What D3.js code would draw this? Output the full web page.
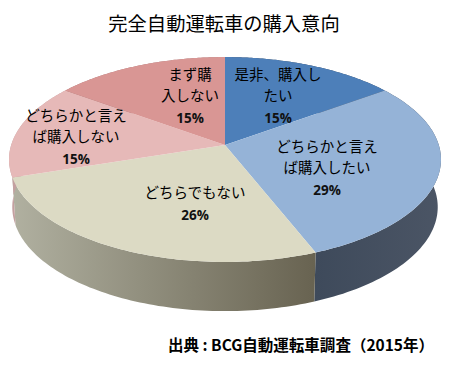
<!DOCTYPE html>
<html><head><meta charset="utf-8">
<script src="https://cdn.jsdelivr.net/npm/d3@7/dist/d3.min.js"></script>
<style>html,body{margin:0;padding:0;background:#fff}svg{display:block}</style>
</head><body><svg id="c" width="450" height="368"></svg>
<script>
const titleText = "完全自動運転車の購入意向";
const sourceText = "出典 : BCG自動運転車調査（2015年）";
const categories = ["是非、購入したい","どちらかと言えば購入したい","どちらでもない","どちらかと言えば購入しない","まず購入しない"];
const labelLines = [["是非、購入し","たい"],["どちらかと言え","ば購入したい"],["どちらでもない"],["どちらかと言え","ば購入しない"],["まず購","入しない"]];
const values = [15,29,26,15,15];
const topColors = ["#4d7fb9","#95b3d7","#dcdac4","#e6b9b8","#d99694"];
const sideLeft  = ["#3a4a60","#3e4a5b","#b1b1a1","#c4a0a0","#a87878"];
const sideRight = ["#3a4a60","#4b5565","#686351","#c4a0a0","#a87878"];
const labelX = [278,327,195,76,190];
const labelY = [75,147,193,116,75];

const fontJ = "'Noto Sans CJK JP','Noto Sans',sans-serif";
const svg = d3.select("#c");
const k = 0.1415, A = 213.8;
const cx = 225;
const xUnit = d3.scaleLinear().domain([-1,1]).range([cx-A,cx+A]);
const xUnitB = d3.scaleLinear().domain([-1,1]).range([cx-A*0.985,cx+A*0.985]);
const yTop = d3.scaleLinear().domain([-1,1]).range([145-100.4,145+100.4]);
const yBot = d3.scaleLinear().domain([-1,1]).range([192.3-102,192.3+102]);
const P = (a,xs,ys)=>{const X=Math.sin(a),Y=-Math.cos(a),w=1-k*Y;
  return [xs(X/w),ys(Y/w)];};
const centre = [xUnit(0),yTop(0)];
const arcs = d3.pie().sort(null).value(d=>d)(values);
const line = d3.line();
const samples = (a0,a1)=>d3.range(0,81).map(i=>a0+(a1-a0)*i/80);

const defs = svg.append("defs");
arcs.forEach((s,i)=>{
  const g = defs.append("linearGradient").attr("id","side"+i)
    .attr("gradientUnits","userSpaceOnUse")
    .attr("x1",i===1?315:10).attr("x2",i===1?440:315).attr("y1",0).attr("y2",0);
  g.append("stop").attr("offset",0).attr("stop-color",sideLeft[i]);
  g.append("stop").attr("offset",1).attr("stop-color",sideRight[i]);
});

// side walls
svg.append("g").selectAll("path").data(arcs).join("path")
  .attr("fill",(d,i)=>`url(#side${i})`)
  .attr("d",d=>{
    const a=samples(d.startAngle,d.endAngle);
    const t=a.map(v=>P(v,xUnit,yTop));
    const b=a.slice().reverse().map(v=>P(v,xUnitB,yBot));
    return line(t.concat(b))+"Z";
  });
// top faces
svg.append("g").selectAll("path").data(arcs).join("path")
  .attr("fill",(d,i)=>topColors[i])
  .attr("d",d=>line([centre].concat(samples(d.startAngle,d.endAngle).map(v=>P(v,xUnit,yTop))))+"Z");

// labels
const lh = 21;
arcs.forEach((s,i)=>{
  const g=svg.append("g");
  labelLines[i].forEach((t,j)=>{
    g.append("text").attr("x",labelX[i]).attr("y",labelY[i]+j*lh)
     .attr("dy","0.36em").attr("text-anchor","middle")
     .attr("font-family",fontJ).attr("font-size",14.5).attr("fill","#000").text(t);
  });
  g.append("text").attr("x",labelX[i]).attr("y",labelY[i]+labelLines[i].length*lh+1)
     .attr("dy","0.36em").attr("text-anchor","middle")
     .attr("font-family","'Open Sans',sans-serif").attr("font-weight",700)
     .attr("font-size",13.5).attr("fill","#111").text(s.value+"%");
});

svg.append("text").attr("x",224).attr("y",24).attr("dy","0.36em").attr("text-anchor","middle")
  .attr("font-family",fontJ).attr("font-size",19.3).attr("fill","#000").text(titleText);
svg.append("text").attr("x",168).attr("y",345).attr("dy","0.36em").attr("text-anchor","start")
  .attr("font-family",fontJ).attr("font-weight",700).attr("font-size",15.5).attr("fill","#000")
  .attr("textLength",266).attr("lengthAdjust","spacing").text(sourceText);
</script></body></html>
